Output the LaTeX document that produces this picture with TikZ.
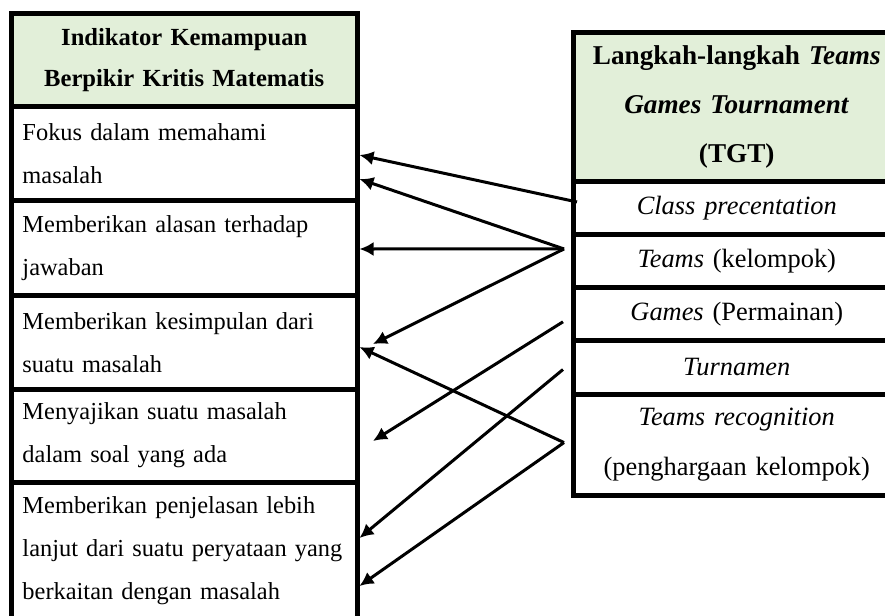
\documentclass[tikz,border=0pt]{standalone}
\usepackage{fontspec}
\setmainfont{Liberation Serif}
\usetikzlibrary{positioning}
\usetikzlibrary{arrows.meta}
\definecolor{hdrgreen}{HTML}{E2EFD9}

\begin{document}
\begin{tikzpicture}[x=0.5pt,y=-0.5pt,
  cellL/.style={draw,line width=2.5pt,outer sep=0pt,inner xsep=5.5pt,inner ysep=0pt,
    minimum width=172.75pt,text width=161.75pt,align=left,
    font=\fontsize{12.2}{21.5}\selectfont},
  hdrL/.style={cellL,fill=hdrgreen,align=center,font=\fontsize{12.3}{20.5}\selectfont\bfseries},
  cellR/.style={draw,line width=2.5pt,outer sep=0pt,inner xsep=4pt,inner ysep=0pt,
    minimum width=163.25pt,text width=155.25pt,align=center,
    font=\fontsize{13.2}{24.75}\selectfont},
  hdrR/.style={cellR,fill=hdrgreen,font=\fontsize{13.6}{24.5}\selectfont\bfseries},
  link/.style={line width=1.5pt,-{Latex[length=7pt,width=7pt]}}]
\useasboundingbox (0,0) rectangle (885,616);
\clip (0,0) rectangle (885,616);

% indikator (kiri)
\node[hdrL,minimum height=46.25pt,anchor=north west] (indL) at (11.5,13.5) {Indikator Kemampuan\\Berpikir Kritis Matematis};
\node[cellL,minimum height=47.25pt,below=0pt of indL] (fokus) {Fokus dalam memahami\\masalah};
\node[cellL,minimum height=47.5pt,below=0pt of fokus] (alasan) {Memberikan alasan terhadap\\jawaban};
\node[cellL,minimum height=46.75pt,below=0pt of alasan] (kesimpulan) {Memberikan kesimpulan dari\\suatu masalah};
\node[cellL,minimum height=46.5pt,below=0pt of kesimpulan] (sajikan) {Menyajikan suatu masalah\\dalam soal yang ada};
\node[cellL,minimum height=69pt,below=0pt of sajikan] (jelas) {Memberikan penjelasan lebih\\lanjut dari suatu peryataan yang\\berkaitan dengan masalah};

% langkah TGT (kanan)
\node[hdrR,minimum height=74.5pt,anchor=north west] (tgt) at (573.5,32.5) {Langkah-langkah \textit{Teams}\\\textit{Games Tournament}\\(TGT)};
\node[cellR,minimum height=26.25pt,below=0pt of tgt] (cls) {\textit{Class precentation}};
\node[cellR,minimum height=26.75pt,below=0pt of cls] (teams) {\textit{Teams} (kelompok)};
\node[cellR,minimum height=26.5pt,below=0pt of teams] (games) {\textit{Games} (Permainan)};
\node[cellR,minimum height=27pt,below=0pt of games] (turn) {\textit{Turnamen}};
\node[cellR,minimum height=50.25pt,below=0pt of turn] (recog) {\textit{Teams recognition}\\(penghargaan kelompok)};

\coordinate (teamsOut) at ([xshift=-4.75pt,yshift=5.9pt]teams.west);
\coordinate (recogOut) at ([xshift=-4.75pt,yshift=1.1pt]recog.west);

\draw[link] ([xshift=1.75pt,yshift=2.9pt]cls.west) -- ([xshift=1.25pt,yshift=-0.9pt]fokus.east);
\draw[link] (teamsOut) -- ([xshift=1.25pt,yshift=-12.9pt]fokus.east);
\draw[link] (teamsOut) -- ([xshift=1.25pt,yshift=-0.5pt]alasan.east);
\draw[link] (teamsOut) -- ([xshift=8pt,yshift=-0.9pt]kesimpulan.east);
\draw[link] (recogOut) -- ([xshift=1.25pt,yshift=-2.4pt]kesimpulan.east);
\draw[link] ([xshift=-5.25pt,yshift=-3.9pt]games.west) -- ([xshift=8pt,yshift=-2.75pt]sajikan.east);
\draw[link] ([xshift=-5.25pt,yshift=-1pt]turn.west) -- ([xshift=1.25pt,yshift=6.5pt]jelas.east);
\draw[link] (recogOut) -- ([xshift=1.25pt,yshift=-17.5pt]jelas.east);

\end{tikzpicture}
\end{document}
